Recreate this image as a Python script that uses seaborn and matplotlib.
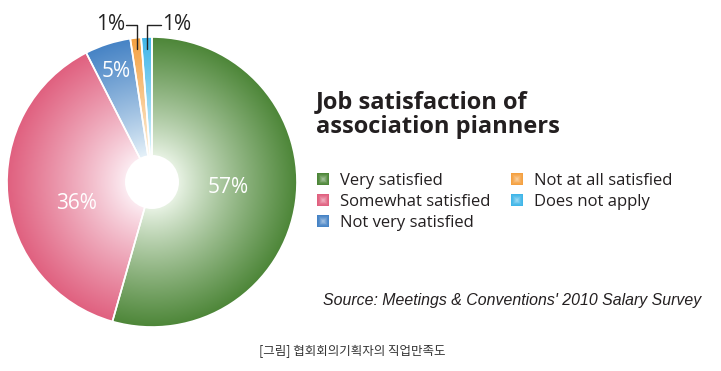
import numpy as np
import matplotlib
matplotlib.use("Agg")
import matplotlib.pyplot as plt
import matplotlib.colors as mcolors
from matplotlib.patches import Patch, Circle, Rectangle
from matplotlib.legend_handler import HandlerBase
import seaborn as sns

# ---- data ----
categories = ["Very satisfied", "Somewhat satisfied", "Not very satisfied",
              "Not at all satisfied", "Does not apply"]
shares = [54.4, 38.1, 5.1, 1.2, 1.2]          # wedge sizes as drawn
pct_labels = ["57%", "36%", "5%", "1%", "1%"]   # printed labels
colors = ["#4d8638", "#e0607f", "#4683c5", "#f4a040", "#3fb5e8"]

title = "Job satisfaction of\nassociation pianners"
source = "Source: Meetings & Conventions' 2010 Salary Survey"
caption = "[그림] 협회회의기획자의 직업만족도"

sns.set_theme(style="white")
plt.rcParams["font.family"] = ["Open Sans", "DejaVu Sans"]

W, H = 721, 371
fig = plt.figure(figsize=(W / 100, H / 100), dpi=100)
ax = fig.add_axes([0, 0, 1, 1])

cx, cy, R = 152, 189, 145
wedges, _ = ax.pie(shares, colors=colors, startangle=90, counterclock=False,
                   center=(cx, cy), radius=R, frame=True,
                   wedgeprops=dict(edgecolor="white", linewidth=1.2))

# radial gradient fill clipped to each wedge
n = 400
xs = np.linspace(-1, 1, n)
XX, YY = np.meshgrid(xs, xs)
rr = np.sqrt(XX ** 2 + YY ** 2)
f = np.clip((rr - 0.12) / 0.88, 0, 1) ** 0.85
for w, c in zip(wedges, colors):
    edge = np.array(mcolors.to_rgb(c))
    center = np.clip(0.95 * np.ones(3) + 0.1 * edge, 0, 1)
    img = center[None, None, :] * (1 - f[..., None]) + edge[None, None, :] * f[..., None]
    im = ax.imshow(img, extent=(cx - R, cx + R, cy - R, cy + R), origin="lower",
                   aspect="auto", zorder=2, interpolation="bilinear")
    im.set_clip_path(w)
    w.set_facecolor("none")
    w.set_zorder(3)

ax.add_patch(Circle((cx, cy), 27, facecolor="white", edgecolor="none", zorder=4))

# inner labels (radius fraction, angle shift in degrees)
label_pos = [(0.53, 4), (0.54, 10), (0.80, 0)]
for w, lab, (lr, da) in zip(wedges[:3], pct_labels[:3], label_pos):
    mid = np.deg2rad((w.theta1 + w.theta2) / 2 + da)
    ax.text(cx + lr * R * np.cos(mid), cy + lr * R * np.sin(mid), lab,
            color="white", fontsize=15, ha="center", va="center", zorder=5)

# small wedges: leader lines
ytop = cy + R + 12
for k, (w, lab) in enumerate(zip(wedges[3:], pct_labels[3:])):
    mid = np.deg2rad((w.theta1 + w.theta2) / 2)
    x0 = cx + 0.92 * R * np.cos(mid)
    y0 = cy + 0.92 * R * np.sin(mid)
    if k == 0:
        ax.plot([x0, x0, x0 - 11], [y0, ytop, ytop], color="#222222", lw=1, zorder=5)
        ax.text(x0 - 12, ytop, lab, ha="right", va="center", fontsize=15, color="#222222")
    else:
        ax.plot([x0, x0, x0 + 14], [y0, ytop, ytop], color="#222222", lw=1, zorder=5)
        ax.text(x0 + 15, ytop, lab, ha="left", va="center", fontsize=15, color="#222222")

# title
ax.text(316, H - 90, title, ha="left", va="top", fontsize=17, fontweight="bold",
        color="#231f20", linespacing=1.05)


# legend with glowing squares
class GlowSquare(HandlerBase):
    def create_artists(self, legend, orig_handle, xdescent, ydescent, width, height,
                       fontsize, trans):
        edge = np.array(mcolors.to_rgb(orig_handle.get_facecolor()))
        s = min(width, height)
        x0 = -xdescent + (width - s) / 2
        y0 = -ydescent + (height - s) / 2
        arts = []
        steps = 12
        for i in range(steps):
            t = i / (steps - 1)
            mix = 0.45 * t ** 1.5
            col = edge * (1 - mix) + np.ones(3) * mix
            inset = s * 0.5 * t * 0.85
            arts.append(Rectangle((x0 + inset, y0 + inset), s - 2 * inset, s - 2 * inset,
                                  facecolor=col, edgecolor="none", transform=trans))
        return arts


handles = [Patch(facecolor=c, edgecolor="none") for c in colors]
leg = ax.legend(handles, categories, loc="upper left", bbox_to_anchor=(317 / W, (H - 173) / H),
                ncol=2, frameon=False, fontsize=12, handlelength=0.75, handleheight=0.75,
                handletextpad=0.65, labelspacing=0.3, columnspacing=1.2, borderpad=0,
                borderaxespad=0, handler_map={Patch: GlowSquare()})
for t in leg.get_texts():
    t.set_color("#231f20")

# source
ax.text(701, H - 300, source, ha="right", va="center", fontsize=11.4, style="italic",
        family=["Liberation Sans", "DejaVu Sans"], color="#231f20")

# caption
ax.text(352, H - 352, caption, ha="center", va="center", fontsize=9,
        family=["Noto Sans CJK KR", "DejaVu Sans"], color="#333333")

ax.set_xlim(0, W)
ax.set_ylim(0, H)
ax.axis("off")
fig.savefig("out.png", dpi=100, facecolor="white")
